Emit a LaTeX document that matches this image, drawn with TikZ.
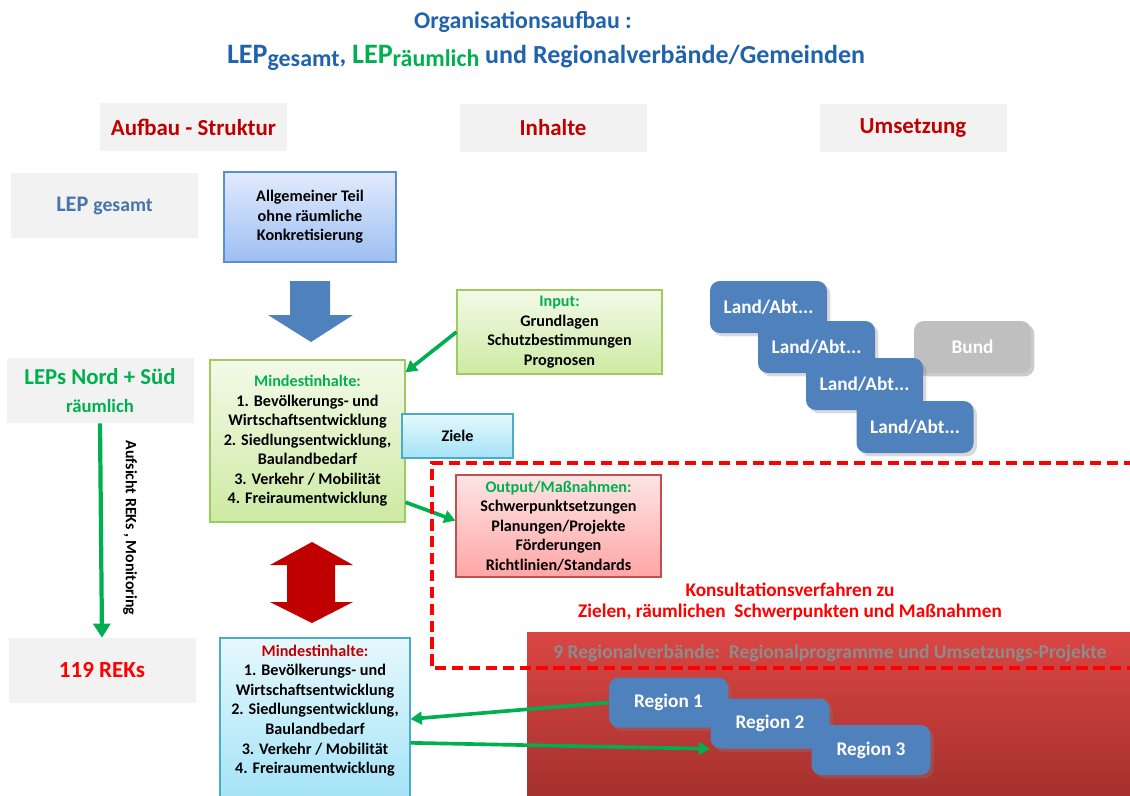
\documentclass[tikz,border=0pt]{standalone}
\usepackage{fontspec}
\setmainfont{Carlito}
\usetikzlibrary{arrows.meta,positioning,shadows}
\definecolor{titleblue}{HTML}{1F63AD}
\definecolor{lepgreen}{HTML}{00B050}
\definecolor{darkred}{HTML}{C00000}
\definecolor{headgray}{HTML}{F2F2F2}
\definecolor{tileblue}{HTML}{4F81BD}
\definecolor{allgtop}{HTML}{E2EBFC}
\definecolor{allgbot}{HTML}{9DBEF2}
\definecolor{allgline}{HTML}{5B8DD3}
\definecolor{greentop}{HTML}{F3FAE8}
\definecolor{greenbot}{HTML}{CDEAA3}
\definecolor{greenline}{HTML}{9CCB5E}
\definecolor{cyantop}{HTML}{E6F8FD}
\definecolor{cyanbot}{HTML}{A3E3F7}
\definecolor{cyanline}{HTML}{4BACC6}
\definecolor{pinktop}{HTML}{FDE4E4}
\definecolor{pinkbot}{HTML}{FFA6A6}
\definecolor{pinkline}{HTML}{C0504D}
\definecolor{regtop}{HTML}{DA4643}
\definecolor{regbot}{HTML}{A4302D}
\newlength\pxl \setlength\pxl{0.025cm}

\begin{document}
\begin{tikzpicture}[x=0.025cm,y=-0.025cm,font=\bfseries,>=Latex,
 head/.style={fill=headgray,minimum width=187\pxl,minimum height=48\pxl,text=darkred,font=\fontsize{16.3}{18}\selectfont\bfseries},
 side/.style={fill=headgray,minimum width=187\pxl,minimum height=65\pxl,align=center},
 body/.style={draw,line width=0.8pt,align=center,inner sep=2pt,font=\fontsize{11.5}{13.9}\selectfont\bfseries},
 tile/.style={fill=tileblue,rounded corners=7pt,text=white,minimum width=117\pxl,minimum height=52\pxl,drop shadow={opacity=.3},font=\fontsize{13.7}{15}\selectfont\bfseries},
 flow/.style={draw=lepgreen,line width=2.6pt,-{Triangle[length=8pt,width=9pt]}}]
\useasboundingbox (0,0) rectangle (1130,795);
% title
\node[text=titleblue,font=\fontsize{17}{20}\selectfont\bfseries](title)at(523,22){Organisationsaufbau :};
\node[text=titleblue,font=\fontsize{18.5}{20}\selectfont\bfseries](subtitle)at(546,58){{\fontsize{20}{20}\selectfont LEP}\raisebox{-2pt}{\fontsize{17}{17}\selectfont gesamt}, \textcolor{lepgreen}{{\fontsize{20}{20}\selectfont LEP}\raisebox{-2pt}{\fontsize{17}{17}\selectfont räumlich}} und Regionalverbände/Gemeinden};
% column heads
\node[head](aufbau)at(193.5,127){Aufbau - Struktur};
\node[head](inhalte)at(553,128){Inhalte};
\node[head](umsetzung)at(913,128){Umsetzung};
% left column
\node[side,text=tileblue!90!black,font=\fontsize{15.8}{18}\selectfont\bfseries](lep)at(104.5,205.5){LEP {\fontsize{14}{16}\selectfont gesamt}};
\node[side,text=lepgreen,font=\fontsize{16.2}{20}\selectfont\bfseries](leps)at(100,390.5){LEPs Nord + Süd\\{\fontsize{13.3}{15}\selectfont räumlich}};
\node[side,text=red,font=\fontsize{16.4}{18}\selectfont\bfseries](reks)at(102,670.5){119 REKs};
\draw[draw=lepgreen,line width=3pt,-{Triangle[length=10pt,width=12pt]}](leps.south)--(reks.north);
\node[rotate=-90,font=\fontsize{11.3}{13}\selectfont\bfseries](aufsicht)at(130,528){Aufsicht REKs , Monitoring};
% middle column
\node[body,draw=allgline,top color=allgtop,bottom color=allgbot,minimum width=172\pxl,minimum height=90\pxl](allg)at(310,217){Allgemeiner Teil\\ohne räumliche\\Konkretisierung};
\fill[tileblue](290,281)--(330,281)--(330,315)--(353,315)--(311,342)--(268,315)--(290,315)--cycle;
\node[body,draw=greenline,top color=greentop,bottom color=greenbot,minimum width=205\pxl,minimum height=84\pxl](input)at(559.5,332){\textcolor{lepgreen}{Input:}\\Grundlagen\\Schutzbestimmungen\\Prognosen};
\node[body,draw=greenline,top color=greentop,bottom color=greenbot,minimum width=195\pxl,minimum height=162\pxl](mind)at(307.5,441){\textcolor{lepgreen}{Mindestinhalte:}\\1. Bevölkerungs- und\\Wirtschaftsentwicklung\\2. Siedlungsentwicklung,\\Baulandbedarf\\3. Verkehr / Mobilität\\4. Freiraumentwicklung};
\node[body,draw=cyanline,top color=cyantop,bottom color=cyanbot,minimum width=111\pxl,minimum height=44\pxl](ziele)at(457.5,436){Ziele};
\node[body,draw=pinkline,top color=pinktop,bottom color=pinkbot,minimum width=205\pxl,minimum height=102\pxl](output)at(558.5,526){\textcolor{lepgreen}{Output/Maßnahmen:}\\Schwerpunktsetzungen\\Planungen/Projekte\\Förderungen\\Richtlinien/Standards};
\draw[flow](input.west)--(mind.35);
\draw[flow](mind.-32)--(output.177);
\fill[darkred](312,542)--(353,565)--(335,565)--(335,602)--(353,602)--(312,623)--(270,602)--(287,602)--(287,565)--(270,565)--cycle;
\node[body,draw=cyanline,top color=cyantop,bottom color=cyanbot,minimum width=190\pxl,minimum height=162\pxl](mindreg)at(315,719){\textcolor{darkred}{Mindestinhalte:}\\1. Bevölkerungs- und\\Wirtschaftsentwicklung\\2. Siedlungsentwicklung,\\Baulandbedarf\\3. Verkehr / Mobilität\\4. Freiraumentwicklung\\ \mbox{}};
% right column
\node[tile](land1)at(768.5,307){Land/Abt...};
\node[tile](land2)at(816.5,347){Land/Abt...};
\node[tile,fill=black!25,drop shadow={opacity=.15}](bund)at(972.5,347){Bund};
\node[tile](land3)at(864.5,384){Land/Abt...};
\node[tile](land4)at(915,427){Land/Abt...};
% regions
\shade[top color=regtop,bottom color=regbot](527,632)rectangle(1135,800);
\node[text=black!45,font=\fontsize{13.9}{15}\selectfont\bfseries](verbaende)at(830,653){9 Regionalverbände:\ \ Regionalprogramme und Umsetzungs-Projekte};
\draw[red,line width=2.2pt,dash pattern=on 8pt off 4pt](1135,463)--(432,463)--(432,668)--(1135,668);
\node[text=red,align=center,font=\fontsize{13.7}{15}\selectfont\bfseries](konsult)at(790,602){Konsultationsverfahren zu\\Zielen, räumlichen\ \ Schwerpunkten und Maßnahmen};
\node[tile,minimum width=119\pxl,minimum height=50\pxl](reg1)at(668.5,702.5){Region 1};
\node[tile,minimum width=119\pxl,minimum height=50\pxl](reg2)at(770,723.5){Region 2};
\node[tile,minimum width=119\pxl,minimum height=50\pxl](reg3)at(871,750){Region 3};
\draw[flow](reg1.west)--(mindreg.east);
\draw[flow](mindreg.-14)--(reg2.south west);
\end{tikzpicture}
\end{document}
